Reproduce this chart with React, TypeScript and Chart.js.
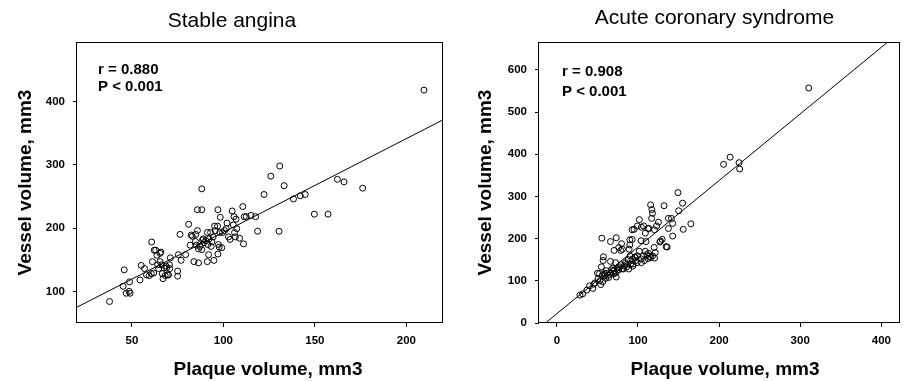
import React, { useEffect, useRef } from "react";
import { Chart, registerables } from "chart.js";

Chart.register(...registerables);

const FONT = "'Liberation Sans', Arial, Helvetica, sans-serif";

// ---------- Stable angina ----------
const stableX = [209.6, 37.8, 45.8, 45.2, 46.9, 48.5, 48.7, 49, 54.4, 55.1, 56.9, 58, 59.5, 60.8, 61.2, 60.6, 61.9, 62.2, 63, 63.7, 64.1, 64.6, 65.4, 65.8, 65.4, 66.3, 66.6, 67, 67.6, 68.2, 68.6, 69, 69.4, 70, 70.5, 70.7, 71, 75, 75, 75.4, 76.3, 76.9, 79.4, 81, 81.8, 82.4, 83, 83.9, 84.7, 84.9, 85.2, 85.8, 85.8, 86.4, 86.4, 87.1, 88.2, 88.2, 88.2, 88.6, 89, 89.3, 90.4, 91.2, 91.3, 91.5, 91.9, 92.2, 93, 93.3, 93.7, 94.4, 94.8, 95.2, 95.5, 96.8, 97, 97, 97.3, 97.7, 98, 98.3, 99.1, 99.5, 100.6, 101.5, 102, 102.8, 103.6, 104.8, 105.4, 105.8, 106.1, 106.5, 106.9, 107.3, 108.8, 110.6, 111, 111.4, 112.5, 115, 117.6, 118.7, 122.2, 125.9, 130.4, 130.8, 133.2, 138.3, 142, 144.7, 149.7, 157.2, 162.3, 165.9, 176.1];
const stableY = [418, 84, 134, 108, 97, 100, 115, 97, 118, 141, 136, 126, 125, 178, 147, 128, 129, 165, 165, 157, 142, 136, 160, 162, 147, 142, 128, 120, 137, 125, 140, 137, 126, 126, 142, 136, 153, 132, 124, 158, 190, 149, 158, 206, 173, 189, 187, 147, 179, 190, 173, 196, 229, 145, 167, 171, 262, 229, 166, 181, 183, 177, 180, 147, 193, 174, 158, 183, 193, 171, 178, 186, 149, 203, 196, 203, 229, 159, 174, 170, 193, 217, 169, 193, 196, 199, 208, 186, 182, 227, 205, 218, 193, 186, 214, 199, 184, 234, 175, 218, 218, 220, 218, 195, 253, 282, 195, 298, 267, 246, 251, 253, 222, 222, 277, 273, 263];
const stableFitX = [20, 220];
const stableFitY = [75, 371];
const stableXTicks = [50, 100, 150, 200];
const stableYTicks = [100, 200, 300, 400];

// ---------- Acute coronary syndrome ----------
const acsX = [310.5, 205.5, 213.6, 224.6, 225.4, 149.3, 155, 150.2, 165.2, 155.8, 142.8, 142.8, 137.5, 137.5, 141.2, 132.2, 115.6, 117.1, 117.9, 116.8, 125.3, 122.9, 120.4, 112.3, 113.5, 109.1, 104.2, 107, 101.7, 99.3, 95.2, 92.8, 103.8, 109.9, 92.8, 89.9, 79.8, 73.2, 66.1, 55.5, 70.6, 76.3, 78.8, 80.8, 66.1, 57.4, 57, 54.9, 52.5, 72.4, 127, 129.8, 134.7, 120, 121.3, 118, 112.3, 115.6, 109, 106.6, 113.1, 99.3, 96, 104.2, 92.8, 90.3, 87.9, 85.9, 83, 90.7, 98.9, 80.6, 77.3, 74.5, 73.2, 70, 66.3, 63.5, 61.9, 60.2, 56.6, 54.1, 58.2, 50.9, 50.1, 45.6, 44.4, 40.3, 37, 31.7, 28.5, 88.7, 93.6, 67.5, 56.2, 70.4, 74.9, 84.6, 120.4, 114.3, 101.7, 96.8, 89.1, 127.8, 135.9, 89.9, 47, 53, 59, 61, 64, 69, 72, 76, 79, 82, 86, 94, 97, 104, 108, 111];
const acsY = [557, 376, 393, 380, 365, 309, 284, 266, 235, 222, 206, 236, 224, 248, 248, 278, 280, 269, 260, 248, 239, 230, 221, 224, 224, 213, 227, 230, 245, 230, 222, 221, 195, 193, 198, 185, 188, 202, 193, 201, 172, 179, 172, 175, 146, 157, 148, 133, 117, 143, 192, 198, 181, 179, 167, 159, 153, 155, 170, 159, 165, 159, 156, 143, 151, 159, 150, 139, 135, 139, 143, 129, 133, 126, 109, 117, 118, 113, 118, 106, 98, 91, 117, 105, 118, 92, 82, 88, 78, 69, 66, 128, 135, 126, 113, 124, 131, 143, 154, 158, 170, 155, 175, 194, 180, 197, 95, 100, 112, 124, 108, 130, 118, 125, 138, 128, 133, 140, 148, 152, 148, 162];
const acsFitX = [-14, 420];
const acsFitY = [0, 685];
const acsXTicks = [0, 100, 200, 300, 400];
const acsYTicks = [0, 100, 200, 300, 400, 500, 600];

type Panel = {
  title: string;
  r: string;
  p: string;
  xs: number[];
  ys: number[];
  fitX: number[];
  fitY: number[];
  xTicks: number[];
  yTicks: number[];
  xMin: number;
  xMax: number;
  yMin: number;
  yMax: number;
  left: number;
  width: number;
  yAxisWidth: number;
  padRight: number;
  titleX: number;
  titleY: number;
  annX: number;
  annY1: number;
  annY2: number;
  xTitleX: number;
  yTitleX: number;
};

const panels: Panel[] = [
  {
    title: "Stable angina",
    r: "r = 0.880",
    p: "P < 0.001",
    xs: stableX,
    ys: stableY,
    fitX: stableFitX,
    fitY: stableFitY,
    xTicks: stableXTicks,
    yTicks: stableYTicks,
    xMin: 20,
    xMax: 220,
    yMin: 50,
    yMax: 494,
    left: 0,
    width: 450,
    yAxisWidth: 77,
    padRight: 7,
    titleX: 232,
    titleY: 26.5,
    annX: 98,
    annY1: 74,
    annY2: 90.5,
    xTitleX: 268,
    yTitleX: 31,
  },
  {
    title: "Acute coronary syndrome",
    r: "r = 0.908",
    p: "P < 0.001",
    xs: acsX,
    ys: acsY,
    fitX: acsFitX,
    fitY: acsFitY,
    xTicks: acsXTicks,
    yTicks: acsYTicks,
    xMin: -22,
    xMax: 423,
    yMin: 0,
    yMax: 666,
    left: 450,
    width: 455,
    yAxisWidth: 89,
    padRight: 1,
    titleX: 264.5,
    titleY: 23.5,
    annX: 112,
    annY1: 76,
    annY2: 95.5,
    xTitleX: 275,
    yTitleX: 41,
  },
];

const HEIGHT = 381;

function ScatterPanel({ cfg }: { cfg: Panel }) {
  const ref = useRef<HTMLCanvasElement | null>(null);

  useEffect(() => {
    if (!ref.current) return;
    const decor = {
      id: "decor",
      afterDraw(chart: any) {
        const { ctx, chartArea: a } = chart;
        ctx.save();
        ctx.strokeStyle = "#000";
        ctx.lineWidth = 1;
        ctx.strokeRect(
          Math.round(a.left) - 0.5,
          Math.round(a.top) + 0.5,
          Math.round(a.right - a.left),
          Math.round(a.bottom - a.top) - 1
        );
        ctx.fillStyle = "#000";
        ctx.textBaseline = "alphabetic";
        // title
        ctx.font = `21px ${FONT}`;
        ctx.textAlign = "center";
        ctx.fillText(cfg.title, cfg.titleX, cfg.titleY);
        // annotation
        ctx.font = `bold 15px ${FONT}`;
        ctx.textAlign = "left";
        ctx.fillText(cfg.r, cfg.annX, cfg.annY1);
        ctx.fillText(cfg.p, cfg.annX, cfg.annY2);
        // x title
        ctx.font = `bold 19px ${FONT}`;
        ctx.textAlign = "center";
        ctx.fillText("Plaque volume, mm3", cfg.xTitleX, 375);
        // y title
        ctx.translate(cfg.yTitleX, (a.top + a.bottom) / 2);
        ctx.rotate(-Math.PI / 2);
        ctx.fillText("Vessel volume, mm3", 0, 0);
        ctx.restore();
      },
    };

    const tickFont = { family: FONT, size: 11.5, weight: "bold" as const };
    const grid = {
      display: true,
      drawOnChartArea: false,
      drawTicks: true,
      tickLength: 4,
      color: "#000",
      lineWidth: 1,
    };

    const chart = new Chart(ref.current, {
      type: "scatter",
      data: {
        datasets: [
          {
            type: "line" as any,
            data: cfg.fitX.map((x, i) => ({ x, y: cfg.fitY[i] })),
            borderColor: "#000",
            borderWidth: 1,
            pointRadius: 0,
            fill: false,
            showLine: true,
          } as any,
          {
            data: cfg.xs.map((x, i) => ({ x, y: cfg.ys[i] })),
            pointStyle: "circle",
            pointRadius: 3,
            pointBorderWidth: 1,
            pointBorderColor: "#000",
            pointBackgroundColor: "rgba(0,0,0,0)",
            showLine: false,
          } as any,
        ],
      },
      options: {
        animation: false,
        responsive: false,
        maintainAspectRatio: false,
        devicePixelRatio: 1,
        layout: { padding: { left: 0, right: cfg.padRight, top: 42, bottom: 0 } },
        plugins: {
          legend: { display: false },
          tooltip: { enabled: false },
          title: { display: false },
        },
        scales: {
          x: {
            type: "linear",
            min: cfg.xMin,
            max: cfg.xMax,
            afterFit: (s: any) => {
              s.height = 58;
            },
            afterBuildTicks: (s: any) => {
              s.ticks = cfg.xTicks.map((v) => ({ value: v }));
            },
            grid,
            border: { display: false },
            ticks: {
              color: "#000",
              font: tickFont,
              padding: 7,
              maxRotation: 0,
              autoSkip: false,
            },
            title: { display: false },
          },
          y: {
            type: "linear",
            min: cfg.yMin,
            max: cfg.yMax,
            afterFit: (s: any) => {
              s.width = cfg.yAxisWidth;
            },
            afterBuildTicks: (s: any) => {
              s.ticks = cfg.yTicks.map((v) => ({ value: v }));
            },
            grid,
            border: { display: false },
            ticks: {
              color: "#000",
              font: tickFont,
              padding: 8,
              autoSkip: false,
            },
            title: { display: false },
          },
        },
      } as any,
      plugins: [decor],
    });
    return () => chart.destroy();
  }, [cfg]);

  return (
    <canvas
      ref={ref}
      width={cfg.width}
      height={HEIGHT}
      style={{
        position: "absolute",
        left: cfg.left,
        top: 0,
        width: cfg.width,
        height: HEIGHT,
      }}
    />
  );
}

export default function App() {
  return (
    <div
      style={{
        position: "fixed",
        left: 0,
        top: 0,
        width: 905,
        height: HEIGHT,
        background: "#fff",
        overflow: "hidden",
      }}
    >
      {panels.map((p) => (
        <ScatterPanel key={p.title} cfg={p} />
      ))}
    </div>
  );
}
